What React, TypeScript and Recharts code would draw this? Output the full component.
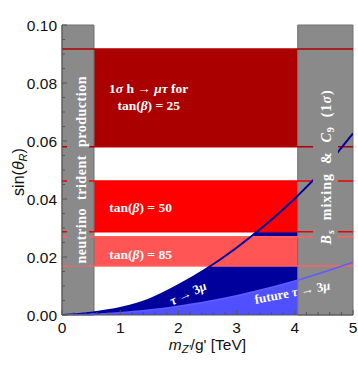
import React from "react";
import {
  ComposedChart,
  Area,
  Line,
  XAxis,
  YAxis,
  ReferenceArea,
  ReferenceLine,
  ReferenceDot,
} from "recharts";

// m_Z'/g' in TeV, sampled along the tau -> 3 mu curves
const massTeV = [0, 0.5, 1, 1.5, 2, 2.5, 3, 3.5, 4, 4.5, 5];
// current tau -> 3 mu bound on sin(theta_R)
const tau3mu = [0, 0.0008, 0.0024, 0.0054, 0.0103, 0.0162, 0.0232, 0.0312, 0.0402, 0.0505, 0.0626];
// future tau -> 3 mu reach
const futureTau3mu = [0, 0.0002, 0.0008, 0.0017, 0.003, 0.0046, 0.0066, 0.009, 0.0117, 0.0148, 0.0182];

// 1 sigma h -> mu tau bands
const tanBetaValues = [25, 50, 85];
const bandLow = [0.058, 0.0287, 0.0169];
const bandHigh = [0.0917, 0.0462, 0.027];

// excluded mass ranges
const tridentRange = [0, 0.55];
const bsMixingRange = [4.05, 5];

const xTicks = [0, 1, 2, 3, 4, 5];
const xTickLabels = ["0", "1", "2", "3", "4", "5"];
const xMinorTicks = [
  0.2, 0.4, 0.6, 0.8, 1.2, 1.4, 1.6, 1.8, 2.2, 2.4, 2.6, 2.8, 3.2, 3.4, 3.6, 3.8, 4.2, 4.4, 4.6, 4.8,
];
const yTicks = [0, 0.02, 0.04, 0.06, 0.08, 0.1];
const yTickLabels = ["0.00", "0.02", "0.04", "0.06", "0.08", "0.10"];
const yMinorTicks = [0.005, 0.01, 0.015, 0.025, 0.03, 0.035, 0.045, 0.05, 0.055, 0.065, 0.07, 0.075, 0.085, 0.09, 0.095];

const data = massTeV.map((m, i) => ({ m, tau3mu: tau3mu[i], future: futureTau3mu[i] }));

const bandFill = ["#aa0000", "#ff0000", "#ff5555"];
const bandEdge = ["#b00000", "#ee0000", "#ff6262"];
const GRAY = "#8a8a8a";
const DARK_BLUE = "#00009c";
const LIGHT_BLUE = "#5050ff";
const FRAME = "#555";

const serif = "'Liberation Serif', 'Times New Roman', Times, serif";
const sans = "'Liberation Sans', Arial, sans-serif";

const near = (list: number[], v: number) => list.findIndex((t) => Math.abs(t - v) < 1e-9);

function FrameTick(props: any) {
  const { x = 0, y = 0, payload, orient } = props;
  const v = payload?.value ?? 0;
  const horiz = orient === "bottom" || orient === "top";
  const idx = near(horiz ? xTicks : yTicks, v);
  const len = idx >= 0 ? 5 : 3;
  let x2 = x;
  let y2 = y;
  if (orient === "bottom") y2 = y - len;
  if (orient === "top") y2 = y + len;
  if (orient === "left") x2 = x + len;
  if (orient === "right") x2 = x - len;
  return (
    <g>
      <line x1={x} y1={y} x2={x2} y2={y2} stroke={FRAME} strokeWidth={1} />
      {idx >= 0 && orient === "bottom" && (
        <text x={x} y={y + 18} textAnchor="middle" style={{ fontFamily: sans }} fontSize={15.5} fill="#111">
          {xTickLabels[idx]}
        </text>
      )}
      {idx >= 0 && orient === "left" && (
        <text x={x - 5} y={y + 5.6} textAnchor="end" style={{ fontFamily: sans }} fontSize={15.5} fill="#111">
          {yTickLabels[idx]}
        </text>
      )}
    </g>
  );
}

const xTitle = () => (
  <text x={207.5} y={350} textAnchor="middle" style={{ fontFamily: sans }} fontSize={15.5} fill="#111">
    <tspan fontStyle="italic">m</tspan>
    <tspan fontStyle="italic" fontSize={11} dy={3}>
      Z'
    </tspan>
    <tspan dy={-3}>/g' [TeV]</tspan>
  </text>
);

const yTitle = () => (
  <text
    x={24}
    y={172}
    textAnchor="middle"
    transform="rotate(-90 24 172)"
    style={{ fontFamily: sans }}
    fontSize={16}
    fill="#111"
  >
    sin(<tspan fontStyle="italic">θ</tspan>
    <tspan fontStyle="italic" fontSize={11} dy={3}>
      R
    </tspan>
    <tspan dy={-3}>)</tspan>
  </text>
);

const topTitle = () => (
  <text x={207.5} y={11.5} textAnchor="middle" style={{ fontFamily: sans }} fontSize={11} fill="#111">
    cos(<tspan fontStyle="italic">α</tspan>−<tspan fontStyle="italic">β</tspan>) = 0.2
  </text>
);

const bandText = {
  fill: "#fff",
  fontWeight: "bold" as const,
  fontSize: 13.5,
  style: { fontFamily: serif, whiteSpace: "pre" as const },
};

export default function App() {
  return (
    <div style={{ position: "absolute", left: 0, top: 0, width: 358, height: 365, background: "#fff" }}>
      <ComposedChart width={358} height={365} data={data} margin={{ top: 25, right: 5, left: 0, bottom: 0 }}>
        <Area
          dataKey="tau3mu"
          type="monotone"
          fill={DARK_BLUE}
          fillOpacity={1}
          stroke="none"
          isAnimationActive={false}
          activeDot={false}
        />
        <Area
          dataKey="future"
          type="monotone"
          fill={LIGHT_BLUE}
          fillOpacity={1}
          stroke="none"
          isAnimationActive={false}
          activeDot={false}
        />
        {tanBetaValues.map((tb, i) => (
          <ReferenceArea
            key={`band-${tb}`}
            x1={tridentRange[1]}
            x2={bsMixingRange[0]}
            y1={bandLow[i]}
            y2={bandHigh[i]}
            fill={bandFill[i]}
            fillOpacity={1}
            stroke="none"
          />
        ))}
        <ReferenceArea
          x1={tridentRange[0]}
          x2={tridentRange[1]}
          y1={0}
          y2={0.1}
          fill={GRAY}
          fillOpacity={1}
          stroke="#707070"
          strokeWidth={1}
        />
        <ReferenceArea
          x1={bsMixingRange[0]}
          x2={bsMixingRange[1]}
          y1={0}
          y2={0.1}
          fill={GRAY}
          fillOpacity={1}
          stroke="#707070"
          strokeWidth={1}
        />
        {tanBetaValues.map((tb, i) => [
          <ReferenceLine key={`lo-${tb}`} y={bandLow[i]} stroke={bandEdge[i]} strokeWidth={1.5} />,
          <ReferenceLine key={`hi-${tb}`} y={bandHigh[i]} stroke={bandEdge[i]} strokeWidth={1.5} />,
        ])}
        <Line
          dataKey="tau3mu"
          type="monotone"
          stroke={DARK_BLUE}
          strokeWidth={2}
          dot={false}
          activeDot={false}
          isAnimationActive={false}
        />
        <Line
          dataKey="future"
          type="monotone"
          stroke="#5c5cff"
          strokeWidth={1.6}
          dot={false}
          activeDot={false}
          isAnimationActive={false}
        />

        <ReferenceDot
          x={1.49}
          y={0.0741}
          r={0}
          shape={(p: any) => (
            <text textAnchor="middle" {...bandText}>
              <tspan x={p.cx} y={p.cy - 7.5}>
                1<tspan fontStyle="italic">σ</tspan> h → <tspan fontStyle="italic">μτ</tspan> for
              </tspan>
              <tspan x={p.cx} y={p.cy + 9.5}>
                tan(<tspan fontStyle="italic">β</tspan>) = {tanBetaValues[0]}
              </tspan>
            </text>
          )}
        />
        <ReferenceDot
          x={1.35}
          y={0.0369}
          r={0}
          shape={(p: any) => (
            <text x={p.cx} y={p.cy + 4.5} textAnchor="middle" {...bandText}>
              tan(<tspan fontStyle="italic">β</tspan>) = {tanBetaValues[1]}
            </text>
          )}
        />
        <ReferenceDot
          x={1.35}
          y={0.021}
          r={0}
          shape={(p: any) => (
            <text x={p.cx} y={p.cy + 4.5} textAnchor="middle" {...bandText}>
              tan(<tspan fontStyle="italic">β</tspan>) = {tanBetaValues[2]}
            </text>
          )}
        />
        <ReferenceDot
          x={2.17}
          y={0.0074}
          r={0}
          shape={(p: any) => (
            <text
              x={p.cx}
              y={p.cy + 4}
              textAnchor="middle"
              transform={`rotate(-25 ${p.cx} ${p.cy})`}
              {...bandText}
              fontSize={13}
            >
              <tspan fontStyle="italic">τ</tspan> → 3<tspan fontStyle="italic">μ</tspan>
            </text>
          )}
        />
        <ReferenceDot
          x={3.96}
          y={0.0077}
          r={0}
          shape={(p: any) => (
            <text
              x={p.cx}
              y={p.cy + 4}
              textAnchor="middle"
              transform={`rotate(-11 ${p.cx} ${p.cy})`}
              {...bandText}
              fontSize={13}
            >
              future <tspan fontStyle="italic">τ</tspan> → 3<tspan fontStyle="italic">μ</tspan>
            </text>
          )}
        />
        <ReferenceDot
          x={0.275}
          y={0.05}
          r={0}
          shape={(p: any) => (
            <g>
              <rect x={p.cx - 11} y={p.cy - 96} width={22} height={192} fill={GRAY} />
              <text
                x={p.cx + 8}
                y={p.cy}
                textAnchor="middle"
                transform={`rotate(-90 ${p.cx + 8} ${p.cy})`}
                textLength={187}
                lengthAdjust="spacing"
                {...bandText}
                fontSize={14}
              >
                {"neutrino  trident  production"}
              </text>
            </g>
          )}
        />
        <ReferenceDot
          x={4.536}
          y={0.0509}
          r={0}
          shape={(p: any) => (
            <g>
              <rect x={p.cx - 13} y={p.cy - 80} width={25} height={160} fill={GRAY} />
              <text
                x={p.cx + 5}
                y={p.cy}
                textAnchor="middle"
                transform={`rotate(-90 ${p.cx + 5} ${p.cy})`}
                textLength={154}
                lengthAdjust="spacing"
                {...bandText}
                fontSize={14}
              >
                <tspan fontStyle="italic">B</tspan>
                <tspan fontStyle="italic" fontSize={10} dy={3}>
                  s
                </tspan>
                <tspan dy={-3}>{"  mixing  &  "}</tspan>
                <tspan fontStyle="italic">C</tspan>
                <tspan fontSize={10} dy={3}>
                  9
                </tspan>
                <tspan dy={-3}>{"  (1"}</tspan>
                <tspan fontStyle="italic">σ</tspan>
                <tspan>)</tspan>
              </text>
            </g>
          )}
        />

        <XAxis
          dataKey="m"
          type="number"
          domain={[0, 5]}
          allowDataOverflow
          ticks={[...xTicks, ...xMinorTicks]}
          interval={0}
          height={50}
          tickSize={0}
          tickMargin={0}
          tickLine={false}
          axisLine={{ stroke: FRAME }}
          tick={(p: any) => <FrameTick {...p} orient="bottom" />}
          label={xTitle}
        />
        <XAxis
          xAxisId="top"
          orientation="top"
          dataKey="m"
          type="number"
          domain={[0, 5]}
          allowDataOverflow
          ticks={[...xTicks, ...xMinorTicks]}
          interval={0}
          height={0}
          tickSize={0}
          tickMargin={0}
          tickLine={false}
          axisLine={{ stroke: FRAME }}
          tick={(p: any) => <FrameTick {...p} orient="top" />}
          label={topTitle}
        />
        <YAxis
          type="number"
          domain={[0, 0.1]}
          allowDataOverflow
          ticks={[...yTicks, ...yMinorTicks]}
          interval={0}
          width={62}
          tickSize={0}
          tickMargin={0}
          tickLine={false}
          axisLine={{ stroke: FRAME }}
          tick={(p: any) => <FrameTick {...p} orient="left" />}
          label={yTitle}
        />
        <YAxis
          yAxisId="right"
          orientation="right"
          type="number"
          domain={[0, 0.1]}
          allowDataOverflow
          ticks={[...yTicks, ...yMinorTicks]}
          interval={0}
          width={0}
          tickSize={0}
          tickMargin={0}
          tickLine={false}
          axisLine={{ stroke: FRAME }}
          tick={(p: any) => <FrameTick {...p} orient="right" />}
        />
      </ComposedChart>
    </div>
  );
}
